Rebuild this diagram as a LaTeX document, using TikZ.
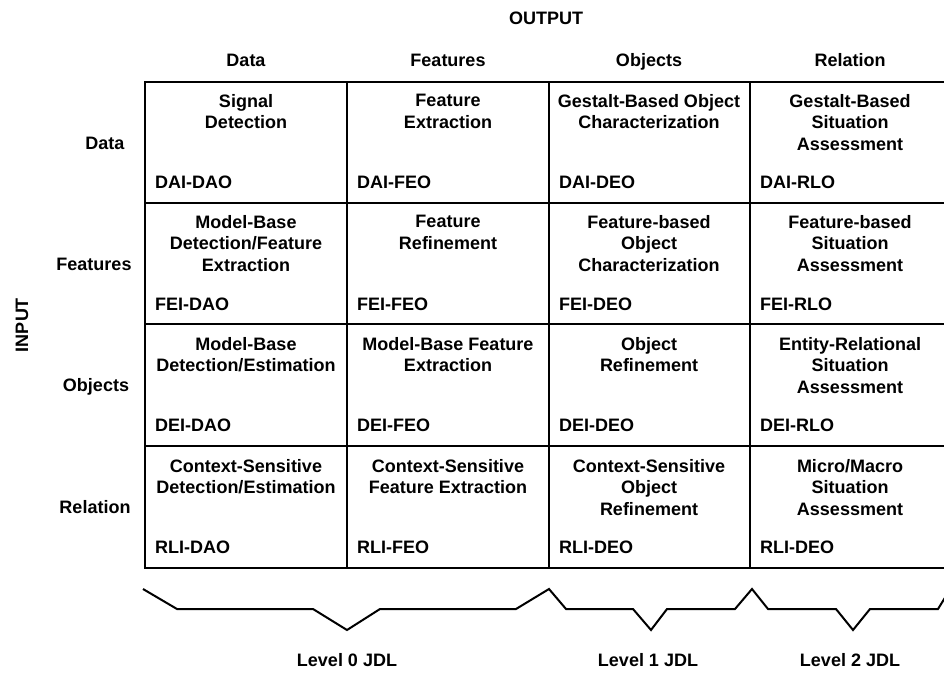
\documentclass[tikz,border=0pt]{standalone}
\usepackage{fontspec}
\setmainfont{Liberation Sans}
\usetikzlibrary{positioning}

\begin{document}
\begin{tikzpicture}[
  x=1pt, y=-1pt,
  gridline/.style={line width=2.6pt, line cap=rect},
  hdr/.style={anchor=base, inner sep=0pt, font=\bfseries\fontsize{18}{21.5}\selectfont},
  task/.style={anchor=north, align=center, inner sep=0pt,
               font=\bfseries\fontsize{18}{21.5}\selectfont},
  code/.style={anchor=west, inner sep=0pt, font=\bfseries\fontsize{18}{21.5}\selectfont},
  brace/.style={line width=2pt, line join=miter}
]
  \useasboundingbox (0,0) rectangle (944,677);

  % headers
  \node[hdr] (output) at (546,24.5) {OUTPUT};
  \node[hdr] (o-da) at (246,66.5) {Data};
  \node[hdr] (o-fe) at (448,66.5) {Features};
  \node[hdr] (o-ob) at (649,66.5) {Objects};
  \node[hdr] (o-re) at (850,66.5) {Relation};

  \node[hdr, rotate=90, anchor=center] (input) at (22,325) {INPUT};
  \node[hdr] (i-da) at (105,149) {Data};
  \node[hdr] (i-fe) at (94,270.5) {Features};
  \node[hdr] (i-ob) at (96,391.5) {Objects};
  \node[hdr] (i-re) at (95,513.5) {Relation};

  % grid
  \foreach \y in {82,203,324,446,568}
    \draw[gridline] (145,\y) -- (950,\y);
  \foreach \x in {145,347,549,750}
    \draw[gridline] (\x,82) -- (\x,568);

  % row 1: data in
  \node[task] (c11) at (246,94) {Signal\\Detection};
  \node[task] (c12) at (448,94) {Feature\\Extraction};
  \node[task] (c13) at (649,94) {Gestalt-Based Object\\Characterization};
  \node[task] (c14) at (850,94) {Gestalt-Based\\Situation\\Assessment};
  \node[code] (k11) at (155,182) {DAI-DAO};
  \node[code] (k12) at (357,182) {DAI-FEO};
  \node[code] (k13) at (559,182) {DAI-DEO};
  \node[code] (k14) at (760,182) {DAI-RLO};

  % row 2: features in
  \node[task] (c21) at (246,215) {Model-Base\\Detection/Feature\\Extraction};
  \node[task] (c22) at (448,215) {Feature\\Refinement};
  \node[task] (c23) at (649,215) {Feature-based\\Object\\Characterization};
  \node[task] (c24) at (850,215) {Feature-based\\Situation\\Assessment};
  \node[code] (k21) at (155,304) {FEI-DAO};
  \node[code] (k22) at (357,304) {FEI-FEO};
  \node[code] (k23) at (559,304) {FEI-DEO};
  \node[code] (k24) at (760,304) {FEI-RLO};

  % row 3: objects in
  \node[task] (c31) at (246,337) {Model-Base\\Detection/Estimation};
  \node[task] (c32) at (448,337) {Model-Base Feature\\Extraction};
  \node[task] (c33) at (649,337) {Object\\Refinement};
  \node[task] (c34) at (850,337) {Entity-Relational\\Situation\\Assessment};
  \node[code] (k31) at (155,425) {DEI-DAO};
  \node[code] (k32) at (357,425) {DEI-FEO};
  \node[code] (k33) at (559,425) {DEI-DEO};
  \node[code] (k34) at (760,425) {DEI-RLO};

  % row 4: relation in
  \node[task] (c41) at (246,459) {Context-Sensitive\\Detection/Estimation};
  \node[task] (c42) at (448,459) {Context-Sensitive\\Feature Extraction};
  \node[task] (c43) at (649,459) {Context-Sensitive\\Object\\Refinement};
  \node[task] (c44) at (850,459) {Micro/Macro\\Situation\\Assessment};
  \node[code] (k41) at (155,547) {RLI-DAO};
  \node[code] (k42) at (357,547) {RLI-FEO};
  \node[code] (k43) at (559,547) {RLI-DEO};
  \node[code] (k44) at (760,547) {RLI-DEO};

  % JDL level braces
  \draw[brace] (143,589) -- (177,609) -- (313,609) -- (347,630) -- (380,609)
    -- (516,609) -- (549,589) -- (566,609) -- (633,609) -- (651,630)
    -- (667,609) -- (735,609) -- (752,589) -- (768,609) -- (836,609)
    -- (853,630) -- (870,609) -- (938,609) -- (946,596);

  \node[hdr] (lv0) at (347,666.5) {Level 0 JDL};
  \node[hdr] (lv1) at (648,666.5) {Level 1 JDL};
  \node[hdr] (lv2) at (850,666.5) {Level 2 JDL};
\end{tikzpicture}
\end{document}
